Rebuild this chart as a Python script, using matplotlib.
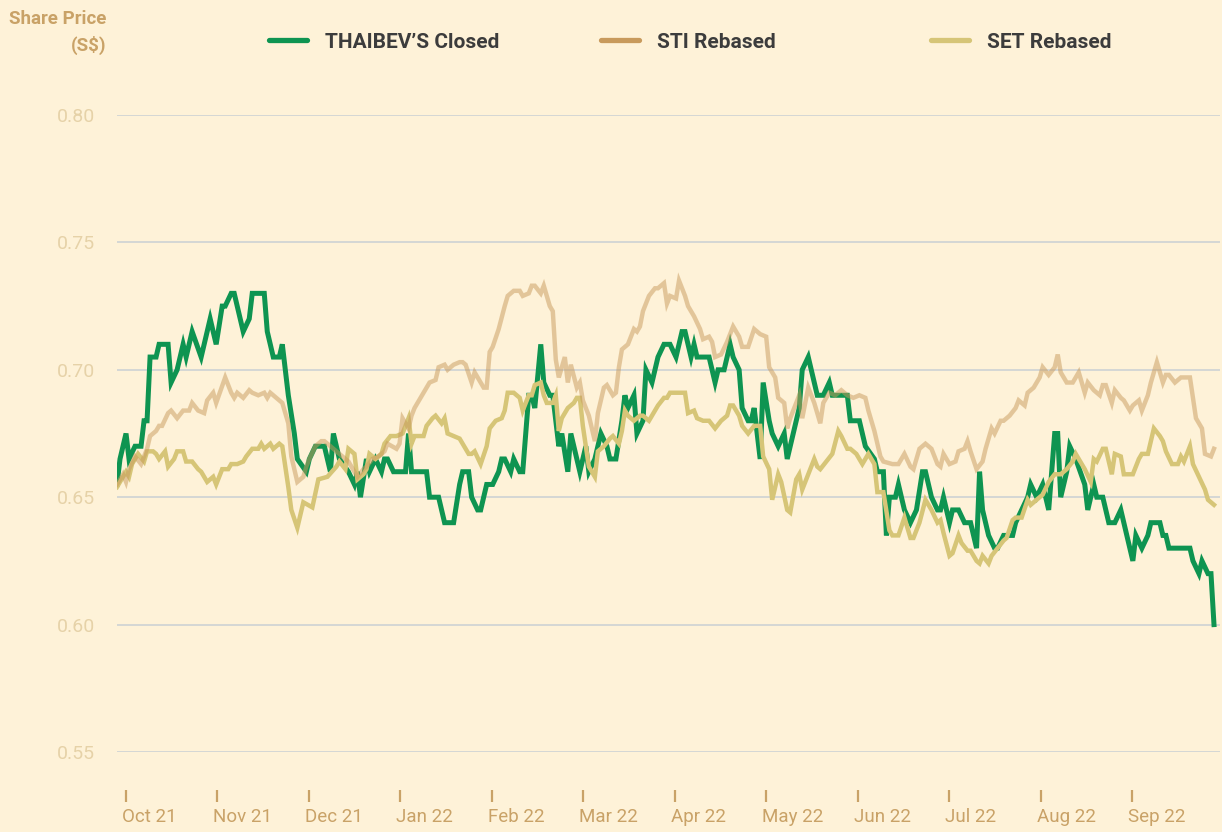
import numpy as np
import matplotlib.pyplot as plt
from matplotlib.lines import Line2D
from matplotlib.transforms import ScaledTranslation

# (days since 28 Sep 2021, value)
thaibev = [
    (0, 0.655), (1, 0.665), (3, 0.675), (4, 0.665), (6, 0.67), (8, 0.67), (9, 0.68), (10, 0.68),
    (11, 0.705), (13, 0.705), (14, 0.71), (17, 0.71), (18, 0.695), (20, 0.70), (22, 0.71), (23, 0.705),
    (25, 0.715), (28, 0.705), (31, 0.72), (33, 0.71), (35, 0.725), (36, 0.725), (38, 0.73), (39, 0.73),
    (40, 0.725), (42, 0.715), (44, 0.72), (45, 0.73), (49, 0.73), (50, 0.715), (52, 0.705), (54, 0.705),
    (55, 0.71), (57, 0.69), (59, 0.675), (60, 0.665), (63, 0.66), (64, 0.665), (66, 0.67), (69, 0.67),
    (71, 0.66), (72, 0.675), (74, 0.665), (77, 0.66), (79, 0.655), (80, 0.66), (81, 0.65), (83, 0.665),
    (84, 0.66), (86, 0.665), (88, 0.66), (89, 0.665), (90, 0.665), (92, 0.66), (96, 0.66), (97, 0.675),
    (98, 0.66), (103, 0.66), (104, 0.65), (107, 0.65), (109, 0.64), (112, 0.64), (114, 0.655), (115, 0.66),
    (117, 0.66), (118, 0.65), (120, 0.645), (121, 0.645), (123, 0.655), (125, 0.655), (127, 0.66), (128, 0.665),
    (129, 0.665), (131, 0.66), (132, 0.665), (134, 0.66), (135, 0.66), (137, 0.69), (138, 0.69), (139, 0.685),
    (141, 0.71), (142, 0.695), (144, 0.69), (145, 0.69), (147, 0.67), (148, 0.675), (150, 0.66), (151, 0.675),
    (153, 0.665), (154, 0.66), (156, 0.67), (157, 0.66), (159, 0.665), (161, 0.675), (163, 0.67), (164, 0.665),
    (166, 0.665), (168, 0.68), (169, 0.69), (170, 0.685), (172, 0.69), (173, 0.675), (175, 0.68), (176, 0.70),
    (178, 0.695), (180, 0.705), (182, 0.71), (184, 0.71), (186, 0.705), (188, 0.715), (189, 0.715),
    (191, 0.705), (192, 0.71), (193, 0.705), (197, 0.705), (198, 0.70), (199, 0.695), (200, 0.70), (202, 0.70),
    (204, 0.71), (205, 0.705), (207, 0.70), (208, 0.685), (210, 0.68), (211, 0.68), (212, 0.685), (214, 0.665),
    (215, 0.695), (217, 0.68), (218, 0.675), (220, 0.67), (222, 0.675), (223, 0.665), (224, 0.67), (227, 0.685),
    (228, 0.70), (230, 0.705), (232, 0.695), (233, 0.69), (235, 0.69), (237, 0.695), (238, 0.69), (243, 0.69),
    (244, 0.68), (247, 0.68), (249, 0.67), (252, 0.665), (253, 0.66), (255, 0.66), (256, 0.635), (257, 0.65),
    (259, 0.65), (260, 0.655), (262, 0.645), (264, 0.64), (266, 0.645), (268, 0.66), (269, 0.66), (271, 0.65),
    (273, 0.645), (274, 0.645), (275, 0.65), (277, 0.64), (278, 0.645), (280, 0.645), (282, 0.64), (284, 0.64),
    (286, 0.63), (287, 0.66), (288, 0.645), (290, 0.635), (292, 0.63), (293, 0.63), (295, 0.635), (298, 0.635),
    (299, 0.64), (301, 0.645), (303, 0.65), (304, 0.655), (306, 0.65), (308, 0.655), (310, 0.645), (312, 0.675),
    (313, 0.675), (314, 0.65), (316, 0.66), (317, 0.67), (319, 0.665), (322, 0.655), (323, 0.645), (325, 0.655),
    (326, 0.65), (328, 0.65), (330, 0.64), (332, 0.64), (334, 0.645), (335, 0.64), (337, 0.63), (338, 0.625),
    (339, 0.635), (341, 0.63), (343, 0.635), (344, 0.64), (347, 0.64), (348, 0.635), (349, 0.635), (350, 0.63),
    (357, 0.63), (358, 0.625), (360, 0.62), (361, 0.625), (363, 0.62), (364, 0.62), (365, 0.60),
]

sti = [
    (0, 0.655), (2, 0.659), (3, 0.656), (4, 0.661), (6, 0.666), (8, 0.663), (10, 0.669), (11, 0.674),
    (13, 0.676), (14, 0.678), (15, 0.678), (17, 0.683), (18, 0.684), (20, 0.681), (22, 0.684), (24, 0.684),
    (25, 0.687), (27, 0.684), (29, 0.683), (30, 0.688), (32, 0.691), (33, 0.687), (36, 0.697), (38, 0.691),
    (39, 0.689), (40, 0.691), (42, 0.689), (44, 0.692), (45, 0.691), (47, 0.690), (49, 0.691), (50, 0.689),
    (51, 0.691), (53, 0.689), (54, 0.688), (55, 0.687), (57, 0.679), (58, 0.666), (60, 0.656), (62, 0.658),
    (63, 0.662), (64, 0.665), (66, 0.670), (68, 0.672), (69, 0.672), (71, 0.670), (73, 0.668), (75, 0.666),
    (77, 0.664), (78, 0.662), (80, 0.658), (82, 0.661), (83, 0.662), (85, 0.665), (87, 0.666), (89, 0.668),
    (90, 0.671), (93, 0.669), (94, 0.671), (95, 0.681), (97, 0.677), (98, 0.682), (99, 0.685), (101, 0.689),
    (103, 0.693), (104, 0.695), (106, 0.696), (107, 0.701), (109, 0.702), (110, 0.700), (112, 0.702), (114, 0.703),
    (115, 0.703), (116, 0.702), (118, 0.695), (119, 0.699), (121, 0.695), (122, 0.693), (123, 0.693), (124, 0.707),
    (125, 0.709), (127, 0.716), (129, 0.725), (130, 0.729), (132, 0.731), (134, 0.731), (135, 0.729), (137, 0.730),
    (138, 0.733), (139, 0.733), (141, 0.730), (142, 0.733), (144, 0.725), (145, 0.723), (146, 0.704), (147, 0.697),
    (149, 0.705), (150, 0.695), (151, 0.702), (153, 0.693), (154, 0.695), (155, 0.688), (157, 0.682), (159, 0.672),
    (160, 0.683), (162, 0.693), (163, 0.694), (165, 0.690), (166, 0.691), (167, 0.701), (168, 0.708), (170, 0.710),
    (172, 0.716), (173, 0.715), (174, 0.717), (175, 0.723), (177, 0.729), (179, 0.732), (180, 0.732), (182, 0.734),
    (183, 0.726), (184, 0.729), (186, 0.728), (187, 0.735), (189, 0.729), (190, 0.725), (192, 0.721), (194, 0.716),
    (195, 0.712), (197, 0.713), (198, 0.711), (199, 0.705), (201, 0.706), (203, 0.711), (205, 0.717), (207, 0.713),
    (208, 0.709), (210, 0.709), (212, 0.716), (214, 0.714), (216, 0.713), (217, 0.701), (219, 0.697), (220, 0.689),
    (222, 0.687), (223, 0.677), (224, 0.681), (227, 0.690), (228, 0.681), (230, 0.693), (232, 0.687), (234, 0.679),
    (235, 0.687), (237, 0.691), (239, 0.690), (241, 0.692), (243, 0.690), (245, 0.689), (247, 0.690), (249, 0.689),
    (250, 0.684), (252, 0.676), (254, 0.666), (255, 0.664), (258, 0.663), (260, 0.663), (262, 0.667), (264, 0.662),
    (265, 0.661), (267, 0.669), (269, 0.671), (271, 0.669), (273, 0.663), (274, 0.662), (275, 0.667), (277, 0.663),
    (279, 0.664), (280, 0.668), (282, 0.669), (283, 0.672), (284, 0.668), (286, 0.661), (288, 0.664), (289, 0.669),
    (291, 0.677), (292, 0.675), (294, 0.680), (295, 0.680), (297, 0.682), (299, 0.685), (300, 0.688), (302, 0.686),
    (303, 0.691), (305, 0.693), (307, 0.697), (308, 0.701), (310, 0.698), (312, 0.701), (313, 0.706), (314, 0.699),
    (316, 0.695), (318, 0.695), (320, 0.699), (322, 0.691), (323, 0.695), (325, 0.692), (327, 0.690), (328, 0.694),
    (329, 0.694), (331, 0.687), (332, 0.692), (334, 0.689), (335, 0.688), (337, 0.684), (338, 0.686), (340, 0.688),
    (341, 0.684), (343, 0.690), (344, 0.695), (345, 0.699), (346, 0.703), (348, 0.695), (349, 0.698), (350, 0.698),
    (352, 0.695), (354, 0.697), (357, 0.697), (358, 0.689), (359, 0.681), (361, 0.677), (362, 0.667), (364, 0.666),
    (365, 0.669),
]

set_idx = [
    (0, 0.654), (2, 0.658), (3, 0.660), (4, 0.658), (5, 0.663), (7, 0.667), (9, 0.664), (10, 0.668),
    (12, 0.668), (13, 0.667), (14, 0.665), (16, 0.668), (17, 0.662), (19, 0.665), (20, 0.668), (22, 0.668),
    (23, 0.664), (25, 0.664), (27, 0.661), (28, 0.660), (30, 0.656), (32, 0.658), (33, 0.655), (35, 0.661),
    (37, 0.661), (38, 0.663), (40, 0.663), (42, 0.664), (43, 0.666), (45, 0.669), (47, 0.669), (48, 0.671),
    (49, 0.669), (51, 0.671), (52, 0.669), (54, 0.671), (55, 0.670), (57, 0.654), (58, 0.645), (60, 0.638),
    (62, 0.648), (65, 0.646), (67, 0.657), (70, 0.658), (73, 0.662), (74, 0.664), (76, 0.661), (77, 0.669),
    (79, 0.667), (80, 0.657), (82, 0.659), (83, 0.661), (84, 0.667), (86, 0.665), (88, 0.667), (89, 0.671),
    (91, 0.674), (93, 0.674), (95, 0.675), (97, 0.681), (98, 0.671), (99, 0.674), (102, 0.674), (103, 0.678),
    (105, 0.681), (106, 0.682), (108, 0.679), (109, 0.681), (110, 0.675), (112, 0.674), (114, 0.673), (115, 0.671),
    (117, 0.667), (118, 0.667), (119, 0.668), (121, 0.663), (123, 0.670), (124, 0.677), (126, 0.680), (128, 0.681),
    (129, 0.684), (130, 0.691), (132, 0.691), (134, 0.689), (135, 0.684), (137, 0.690), (138, 0.690), (139, 0.694),
    (141, 0.695), (142, 0.690), (143, 0.687), (145, 0.687), (146, 0.690), (147, 0.676), (148, 0.681), (150, 0.685),
    (152, 0.687), (153, 0.689), (154, 0.689), (155, 0.678), (157, 0.662), (159, 0.658), (160, 0.668), (162, 0.670),
    (164, 0.673), (165, 0.674), (167, 0.671), (168, 0.676), (169, 0.684), (170, 0.682), (172, 0.680), (174, 0.682),
    (175, 0.682), (177, 0.680), (179, 0.684), (180, 0.686), (182, 0.689), (183, 0.689), (184, 0.691), (186, 0.691),
    (189, 0.691), (190, 0.683), (192, 0.684), (193, 0.681), (195, 0.680), (197, 0.680), (199, 0.677), (201, 0.680),
    (203, 0.682), (204, 0.686), (205, 0.686), (207, 0.682), (208, 0.678), (210, 0.675), (212, 0.678), (214, 0.678),
    (215, 0.666), (217, 0.661), (218, 0.649), (220, 0.659), (221, 0.656), (223, 0.645), (224, 0.644), (226, 0.657),
    (227, 0.659), (228, 0.653), (230, 0.659), (232, 0.665), (233, 0.662), (234, 0.661), (236, 0.664), (238, 0.667),
    (240, 0.676), (241, 0.674), (243, 0.669), (244, 0.669), (246, 0.667), (248, 0.663), (250, 0.667), (252, 0.663),
    (253, 0.652), (255, 0.652), (257, 0.637), (258, 0.635), (260, 0.635), (262, 0.642), (264, 0.634), (265, 0.634),
    (267, 0.640), (269, 0.649), (271, 0.645), (273, 0.640), (274, 0.641), (275, 0.636), (277, 0.627), (278, 0.628),
    (280, 0.635), (281, 0.632), (283, 0.629), (284, 0.629), (286, 0.625), (287, 0.624), (288, 0.627), (290, 0.624),
    (291, 0.627), (293, 0.630), (295, 0.633), (296, 0.634), (298, 0.641), (299, 0.642), (301, 0.642), (303, 0.649),
    (304, 0.647), (306, 0.649), (308, 0.651), (310, 0.656), (312, 0.659), (314, 0.659), (316, 0.661), (318, 0.664),
    (319, 0.667), (320, 0.665), (322, 0.661), (324, 0.656), (325, 0.665), (326, 0.664), (328, 0.669), (329, 0.669),
    (331, 0.659), (332, 0.667), (334, 0.666), (335, 0.659), (338, 0.659), (340, 0.665), (341, 0.667), (343, 0.667),
    (344, 0.672), (345, 0.677), (347, 0.674), (348, 0.672), (349, 0.668), (351, 0.663), (353, 0.663), (354, 0.666),
    (355, 0.664), (357, 0.670), (358, 0.663), (360, 0.658), (362, 0.653), (363, 0.649), (365, 0.647),
]

months = ['Oct 21', 'Nov 21', 'Dec 21', 'Jan 22', 'Feb 22', 'Mar 22',
          'Apr 22', 'May 22', 'Jun 22', 'Jul 22', 'Aug 22', 'Sep 22']
yticks = [0.55, 0.60, 0.65, 0.70, 0.75, 0.80]

BG = '#FEF2D8'
GREEN = '#0E9451'
STI_C = '#C89A5C'
SET_C = '#D6C577'
TAN = '#C9A267'

plt.rcParams['font.family'] = ['Roboto', 'DejaVu Sans']

fig = plt.figure(figsize=(12.22, 8.32), dpi=100, facecolor=BG)
ax = fig.add_axes([117 / 1222, 1 - 752 / 832, (1220 - 117) / 1222, (752 - 115) / 832])
ax.set_facecolor(BG)

d, v = np.array(thaibev).T
ax.plot(d, v, color=GREEN, lw=3.6, solid_joinstyle='miter', zorder=3)
d, v = np.array(set_idx).T
ax.plot(d, v, color=SET_C, lw=3.2, solid_joinstyle='miter', zorder=4)
d, v = np.array(sti).T
ax.plot(d, v, color=STI_C, lw=3.2, alpha=0.5, solid_joinstyle='miter', zorder=5)

ax.set_ylim(0.55, 0.80)
ax.set_xlim(0, 367)
ax.set_yticks(yticks)
ax.set_yticklabels([f'{t:.2f}' for t in yticks])
ax.grid(axis='y', color='#CDD2D4', lw=1.2)
ax.set_axisbelow(True)
for s in ax.spines.values():
    s.set_visible(False)
# month ticks sit well below the plot area (values in points)
ax.spines['bottom'].set_position(('outward', 27))

ax.tick_params(axis='y', length=0, pad=16, labelsize=14, labelcolor='#E6D2A8')
ax.set_xticks(3 + np.arange(12) * 365.25 / 12)
ax.set_xticklabels(months)
ax.tick_params(axis='x', length=8.5, width=1.6, color=TAN, pad=5, labelsize=13.5, labelcolor=TAN)
for lbl in ax.get_xticklabels():
    lbl.set_ha('left')
    lbl.set_transform(lbl.get_transform() + ScaledTranslation(-4 / 100, 0, fig.dpi_scale_trans))

fig.text(106 / 1222, 1 - 19 / 832, 'Share Price', ha='right', va='center',
         fontsize=13.5, fontweight='bold', color=TAN)
fig.text(106 / 1222, 1 - 45 / 832, '(S$)', ha='right', va='center',
         fontsize=13.5, fontweight='bold', color=TAN)

entries = [('THAIBEV\u2019S Closed', GREEN, 269), ('STI Rebased', STI_C, 601), ('SET Rebased', SET_C, 931)]
for name, c, x0 in entries:
    h = Line2D([], [], color=c, lw=3.8, solid_capstyle='round')
    fig.legend(handles=[h], labels=[name], loc='center left',
               bbox_to_anchor=(x0 / 1222, 1 - 42 / 832), frameon=False,
               borderpad=0, borderaxespad=0, handlelength=1.8, handletextpad=0.9,
               prop={'size': 15, 'weight': 'bold'}, labelcolor='#3C3C3C')

fig.savefig('out.png', dpi=100, facecolor=BG)
